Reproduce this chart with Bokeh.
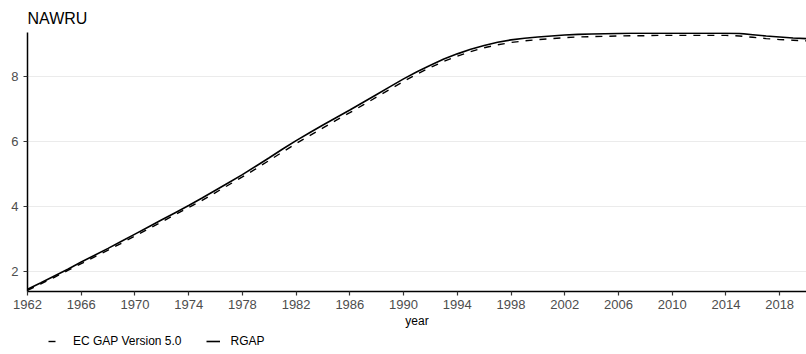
from bokeh.plotting import figure
from bokeh.layouts import column
from bokeh.models import ColumnDataSource, Legend, LegendItem, Range1d, FixedTicker
from bokeh.embed import file_html
from bokeh.resources import INLINE

years = list(range(1962, 2021))
rgap = [1.45, 1.65, 1.86, 2.07, 2.29, 2.50, 2.71, 2.93, 3.15, 3.37,
        3.59, 3.81, 4.03, 4.26, 4.50, 4.74, 4.98, 5.24, 5.50, 5.77,
        6.03, 6.27, 6.51, 6.74, 6.97, 7.21, 7.45, 7.69, 7.93, 8.15,
        8.35, 8.54, 8.70, 8.84, 8.96, 9.06, 9.13, 9.18, 9.22, 9.25,
        9.28, 9.30, 9.31, 9.32, 9.33, 9.34, 9.34, 9.34, 9.34, 9.34,
        9.34, 9.34, 9.34, 9.33, 9.29, 9.25, 9.22, 9.19, 9.17]
ec_gap = [1.42, 1.62, 1.82, 2.03, 2.24, 2.45, 2.66, 2.87, 3.09, 3.31,
          3.53, 3.75, 3.97, 4.19, 4.43, 4.67, 4.91, 5.16, 5.42, 5.68,
          5.94, 6.18, 6.42, 6.66, 6.89, 7.13, 7.37, 7.61, 7.85, 8.08,
          8.28, 8.47, 8.63, 8.77, 8.89, 8.98, 9.05, 9.10, 9.14, 9.17,
          9.20, 9.22, 9.23, 9.24, 9.25, 9.26, 9.26, 9.27, 9.27, 9.27,
          9.27, 9.27, 9.27, 9.25, 9.21, 9.17, 9.14, 9.12, 9.10]
x_ticks = list(range(1962, 2020, 4))
y_ticks = [2, 4, 6, 8]
series_labels = ["EC GAP Version 5.0", "RGAP"]

FONT = "Liberation Sans"

source = ColumnDataSource(data=dict(year=years, rgap=rgap, ec=ec_gap))

p = figure(width=806, height=332, output_backend="svg", toolbar_location=None,
           x_range=Range1d(1962, 2020), y_range=Range1d(1.383, 9.358),
           title="NAWRU", min_border_left=27, min_border_right=0,
           min_border_top=32, min_border_bottom=41)

p.title.text_font = FONT
p.title.text_font_size = "16px"
p.title.text_font_style = "normal"
p.title.text_color = "#000000"
p.title.offset = 0
p.title.standoff = 12

p.outline_line_color = None
p.background_fill_color = "white"
p.border_fill_color = "white"

p.xgrid.grid_line_color = None
p.ygrid.grid_line_color = "#ebebeb"
p.ygrid.grid_line_width = 1
p.ygrid.ticker = FixedTicker(ticks=y_ticks)

for ax in (p.xaxis[0], p.yaxis[0]):
    ax.axis_line_color = "#000000"
    ax.axis_line_width = 1.5
    ax.major_tick_line_color = "#333333"
    ax.major_tick_line_width = 1.2
    ax.major_tick_in = 0
    ax.major_tick_out = 4
    ax.minor_tick_line_color = None
    ax.major_label_text_font = FONT
    ax.major_label_text_font_size = "13px"
    ax.major_label_text_color = "#4d4d4d"
    ax.major_label_standoff = 5

p.xaxis.major_label_standoff = 4
p.xaxis.ticker = FixedTicker(ticks=x_ticks)
p.yaxis.ticker = FixedTicker(ticks=y_ticks)
p.xaxis.axis_label = "year"
p.xaxis.axis_label_text_font = FONT
p.xaxis.axis_label_text_font_size = "12px"
p.xaxis.axis_label_text_font_style = "normal"
p.xaxis.axis_label_text_color = "#000000"
p.xaxis.axis_label_standoff = 2

r_ec = p.line("year", "ec", source=source, line_color="#000000", line_width=1.4,
              line_dash="7 7")
r_rgap = p.line("year", "rgap", source=source, line_color="#000000", line_width=1.6)

# legend strip below the chart (its key lines lie outside the visible range)
lg = figure(width=806, height=22, output_backend="svg", toolbar_location=None,
            x_range=Range1d(0, 1), y_range=Range1d(0, 1),
            x_axis_type=None, y_axis_type=None,
            min_border_left=0, min_border_right=0, min_border_top=0, min_border_bottom=0)
lg.outline_line_color = None
lg.grid.visible = False
lg.background_fill_color = "white"
lg.border_fill_color = "white"
key_src = ColumnDataSource(data=dict(x=[-10, -9], y=[-10, -9]))
l_ec = lg.line("x", "y", source=key_src, line_color="#000000", line_width=1.4, line_dash="7 7")
l_rgap = lg.line("x", "y", source=key_src, line_color="#000000", line_width=1.6)

legend = Legend(items=[LegendItem(label=series_labels[0], renderers=[l_ec]),
                       LegendItem(label=series_labels[1], renderers=[l_rgap])],
                orientation="horizontal", location=(21, 6),
                border_line_color=None, background_fill_alpha=0,
                label_text_font=FONT, label_text_font_size="12px",
                label_text_color="#000000", glyph_width=14, glyph_height=12,
                label_standoff=11, spacing=24, padding=1, margin=0,
                label_height=12)
lg.add_layout(legend, "center")

layout = column(p, lg, spacing=0)
open("out.html", "w").write(file_html(layout, INLINE))
